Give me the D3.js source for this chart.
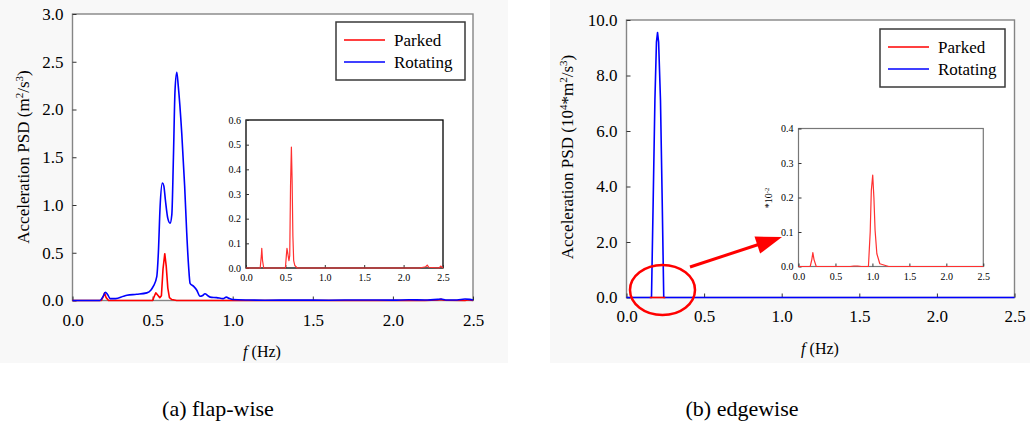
<!DOCTYPE html>
<html>
<head>
<meta charset="utf-8">
<script src="https://cdn.jsdelivr.net/npm/d3@7/dist/d3.min.js"></script>
<style>
  body { margin: 0; background: #fff; }
  svg { display: block; }
  svg text { font-family: "Liberation Serif", "Times New Roman", serif; }
</style>
</head>
<body>
<div id="display"></div>
<script>
var serif = '"Liberation Serif", "Times New Roman", serif';

// tick values
var freqTicks = [0, 0.5, 1.0, 1.5, 2.0, 2.5];
var flapTicks = [0, 0.5, 1.0, 1.5, 2.0, 2.5, 3.0];
var flapInsetTicks = [0, 0.1, 0.2, 0.3, 0.4, 0.5, 0.6];
var edgeTicks = [0, 2, 4, 6, 8, 10];
var edgeInsetTicks = [0, 0.1, 0.2, 0.3, 0.4];

var seriesNames = ['Parked', 'Rotating'];
var seriesColors = ['#ff0000', '#0000ff'];

// (a) flap-wise, rotating
var flapRotF = [0, 0.17, 0.19, 0.205, 0.22, 0.235, 0.27, 0.318, 0.34, 0.4, 0.464, 0.49, 0.505,
  0.526, 0.536, 0.547, 0.561, 0.57, 0.58, 0.595, 0.609, 0.62, 0.63, 0.64, 0.651, 0.66, 0.682,
  0.7, 0.713, 0.725, 0.734, 0.755, 0.775, 0.796, 0.81, 0.827, 0.845, 0.86, 0.9, 0.94, 0.96,
  0.98, 1.0, 1.1, 1.2, 1.4, 1.6, 1.8, 2.0, 2.1, 2.2, 2.28, 2.3, 2.33, 2.4, 2.45, 2.48, 2.5];
var flapRotV = [0, 0, 0.04, 0.087, 0.06, 0.02, 0.02, 0.045, 0.055, 0.065, 0.08, 0.11, 0.15,
  0.25, 0.5, 0.99, 1.23, 1.2, 1.05, 0.86, 0.81, 0.9, 1.5, 2.2, 2.39, 2.25, 1.75,
  1.2, 0.71, 0.35, 0.18, 0.15, 0.11, 0.045, 0.05, 0.07, 0.05, 0.035, 0.03, 0.02, 0.035,
  0.02, 0.01, 0.005, 0.003, 0.004, 0.003, 0.006, 0.004, 0.008, 0.005, 0.012, 0.015, 0.006, 0.005, 0.015, 0.012, 0.005];

// (a) flap-wise, parked (main plot and inset)
var flapParkF = [0, 0.18, 0.195, 0.2, 0.21, 0.225, 0.5, 0.512, 0.52, 0.53, 0.545, 0.555,
  0.565, 0.576, 0.585, 0.595, 0.605, 0.62, 0.65, 1.0, 2.2, 2.28, 2.3, 2.32, 2.45, 2.47, 2.5];
var flapParkV = [0, 0, 0.05, 0.08, 0.03, 0, 0, 0.05, 0.08, 0.06, 0.03, 0.05,
  0.33, 0.49, 0.36, 0.13, 0.03, 0.01, 0, 0, 0, 0.005, 0.012, 0.003, 0, 0.008, 0];

// (b) edgewise, rotating
var edgeRotF = [0, 0.161, 0.172, 0.183, 0.193, 0.2, 0.207, 0.219, 0.23, 0.24, 2.5];
var edgeRotV = [0, 0, 3.5, 7.1, 9.2, 9.55, 9.2, 7.1, 3.5, 0, 0];

// (b) edgewise, parked
var edgeParkF = [0.15, 0.25];
var edgeParkV = [0, 0];
var edgeInsetF = [0, 0.158, 0.18, 0.194, 0.21, 0.24, 0.7, 0.75, 0.8, 0.85, 0.946, 0.97,
  0.985, 1.004, 1.02, 1.036, 1.06, 1.1, 1.22, 2.5];
var edgeInsetV = [0, 0, 0.02, 0.04, 0.02, 0, 0, 0.0015, 0.0015, 0, 0, 0.1,
  0.22, 0.265, 0.2, 0.105, 0.037, 0.008, 0, 0];

function zip(f, v) {
  return f.map(function (d, i) { return [d, v[i]]; });
}

var svg = d3.select('#display')
    .append('svg')
    .attr('width', 1030)
    .attr('height', 432)
    .attr('font-family', serif);

// faint panel backgrounds
svg.append('rect').attr('x', 0).attr('y', 0).attr('width', 508).attr('height', 363).attr('fill', '#f8f8f8');
svg.append('rect').attr('x', 550).attr('y', 0).attr('width', 480).attr('height', 363).attr('fill', '#f8f8f8');

function drawPlot(p) {
  var x = d3.scaleLinear().domain([0, 2.5]).range([p.left, p.right]),
      y = d3.scaleLinear().domain(p.yDomain).range([p.bottom, p.top]);
  var g = svg.append('g');

  g.append('rect')
      .attr('x', p.left)
      .attr('y', p.top)
      .attr('width', p.right - p.left)
      .attr('height', p.bottom - p.top)
      .attr('fill', '#fff')
      .attr('stroke', p.frame)
      .attr('stroke-width', p.frameWidth);

  var xAxis = g.append('g')
      .attr('transform', 'translate(0,' + p.bottom + ')')
      .call(d3.axisBottom(x).tickValues(freqTicks).tickSizeInner(-p.tick).tickSizeOuter(0)
        .tickPadding(p.xPad).tickFormat(d3.format('.1f')));
  var yAxis = g.append('g')
      .attr('transform', 'translate(' + p.left + ',0)')
      .call(d3.axisLeft(y).tickValues(p.yTicks).tickSizeInner(-p.tick).tickSizeOuter(0)
        .tickPadding(p.yPad).tickFormat(d3.format('.1f')));
  [xAxis, yAxis].forEach(function (a) {
    a.attr('font-family', serif).attr('font-size', p.fontSize);
    a.select('.domain').remove();
    a.selectAll('text')
        .attr('font-family', serif)
        .attr('fill', '#000');
    a.selectAll('line').attr('stroke', '#333');
  });

  var line = d3.line()
      .x(function (d) { return x(d[0]); })
      .y(function (d) { return y(d[1]); });

  p.series.forEach(function (s) {
    g.append('path')
        .datum(s.data)
        .attr('fill', 'none')
        .attr('stroke', s.color)
        .attr('stroke-width', s.width)
        .attr('stroke-linejoin', 'round')
        .attr('d', line.curve(s.curve || d3.curveLinear));
  });
  return g;
}

function drawLegend(lx, ly, w, h) {
  var g = svg.append('g');
  g.append('rect')
      .attr('x', lx)
      .attr('y', ly)
      .attr('width', w)
      .attr('height', h)
      .attr('fill', '#fff')
      .attr('stroke', '#3a3a3a')
      .attr('stroke-width', 1.5);
  var items = g.selectAll('g')
      .data(seriesNames)
      .enter()
      .append('g')
      .attr('transform', function (d, i) {
        return 'translate(' + lx + ',' + (ly + 18 + i * 22) + ')';
      });
  items.append('line')
      .attr('x1', 8)
      .attr('x2', 49)
      .attr('stroke', function (d, i) { return seriesColors[i]; })
      .attr('stroke-width', 1.5);
  items.append('text')
      .attr('x', 58)
      .attr('dy', '0.35em')
      .attr('font-size', 17)
      .text(function (d) { return d; });
}

function yLabel(px, py, size, parts) {
  var t = svg.append('text')
      .attr('transform', 'translate(' + px + ',' + py + ') rotate(-90)')
      .attr('text-anchor', 'middle')
      .attr('font-size', size);
  parts.forEach(function (s) {
    t.append('tspan')
        .attr('baseline-shift', s[1] ? 'super' : null)
        .attr('font-size', s[1] ? size * 0.65 : null)
        .text(s[0]);
  });
}

function freqLabel(cx, cy) {
  var t = svg.append('text')
      .attr('x', cx)
      .attr('y', cy)
      .attr('text-anchor', 'middle')
      .attr('font-size', 16);
  t.append('tspan').attr('font-style', 'italic').text('f');
  t.append('tspan').text(' (Hz)');
}

// (a) flap-wise
drawPlot({
  left: 72.5, right: 473, top: 14, bottom: 300.5,
  yDomain: [0, 3], yTicks: flapTicks, tick: 4, xPad: 13, yPad: 9, fontSize: 17,
  frame: '#858585', frameWidth: 1.4,
  series: [
    { data: zip(flapParkF, flapParkV), color: seriesColors[0], width: 1.6 },
    { data: zip(flapRotF, flapRotV), color: seriesColors[1], width: 1.6, curve: d3.curveMonotoneX }
  ]
});
drawPlot({
  left: 246, right: 443, top: 120, bottom: 268,
  yDomain: [0, 0.6], yTicks: flapInsetTicks, tick: 3, xPad: 6, yPad: 5, fontSize: 10,
  frame: '#000', frameWidth: 1.3,
  series: [
    { data: zip(flapParkF, flapParkV), color: '#ff3030', width: 1.2 }
  ]
});
drawLegend(336, 22, 129, 58);
yLabel(29, 157, 17, [['Acceleration PSD (m', 0], ['2', 1], ['/s', 0], ['3', 1], [')', 0]]);
freqLabel(262, 357);

// (b) edgewise
drawPlot({
  left: 626.5, right: 1014.5, top: 20, bottom: 297.5,
  yDomain: [0, 10], yTicks: edgeTicks, tick: 4, xPad: 12, yPad: 9, fontSize: 17,
  frame: '#858585', frameWidth: 1.4,
  series: [
    { data: zip(edgeRotF, edgeRotV), color: seriesColors[1], width: 1.6 },
    { data: zip(edgeParkF, edgeParkV), color: seriesColors[0], width: 1.6 }
  ]
});
drawPlot({
  left: 798.5, right: 983.3, top: 128.5, bottom: 266.5,
  yDomain: [0, 0.4], yTicks: edgeInsetTicks, tick: 3, xPad: 6, yPad: 5, fontSize: 10,
  frame: '#777', frameWidth: 1.2,
  series: [
    { data: zip(edgeInsetF, edgeInsetV), color: '#ff3030', width: 1.2 }
  ]
});
drawLegend(880, 29, 125, 58);
yLabel(573, 157, 17, [['Acceleration PSD (10', 0], ['4', 1], ['*m', 0], ['2', 1], ['/s', 0], ['3', 1], [')', 0]]);
yLabel(772, 198, 10, [['*10', 0], ['-2', 1]]);
freqLabel(820, 354);

// zoom marker: ellipse and arrow
svg.append('ellipse')
    .attr('cx', 662.5)
    .attr('cy', 290)
    .attr('rx', 32.5)
    .attr('ry', 25)
    .attr('fill', 'none')
    .attr('stroke', '#ff0000')
    .attr('stroke-width', 2.5);
svg.append('line')
    .attr('x1', 690)
    .attr('y1', 267)
    .attr('x2', 760)
    .attr('y2', 244)
    .attr('stroke', '#ff0000')
    .attr('stroke-width', 3);
svg.append('polygon')
    .attr('points', '782,237 760.1,253.6 754.5,236.5')
    .attr('fill', '#ff0000');

// captions
svg.append('text')
    .attr('x', 218)
    .attr('y', 416)
    .attr('text-anchor', 'middle')
    .attr('font-size', 22)
    .text('(a) flap-wise');
svg.append('text')
    .attr('x', 742)
    .attr('y', 416)
    .attr('text-anchor', 'middle')
    .attr('font-size', 22)
    .text('(b) edgewise');
</script>
</body>
</html>
